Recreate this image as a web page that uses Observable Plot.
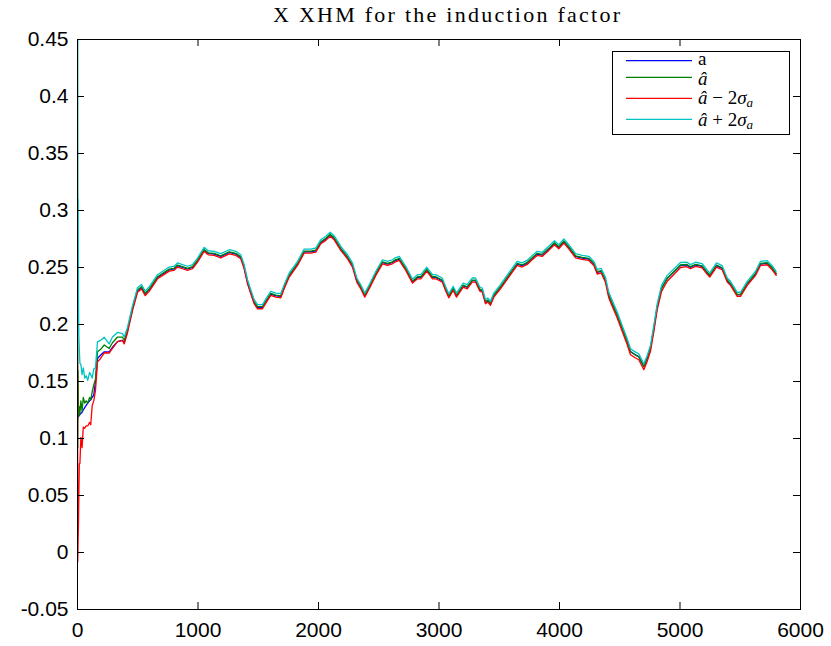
<!DOCTYPE html>
<html>
<head>
<meta charset="utf-8">
<script src="https://cdn.jsdelivr.net/npm/d3@7"></script>
<script src="https://cdn.jsdelivr.net/npm/@observablehq/plot@0.6"></script>
<style>
  body { margin: 0; background: #fff; }
  #chart { width: 831px; height: 646px; }
</style>
</head>
<body>
<div id="chart"></div>
<script>
// Time steps of the filter run
const steps = [0,2,5,8,11,15,20,28,38,48,60,72,85,100,110,122,135,149,166,190,222,263,290,332,373,388,
  415,456,498,531,562,595,664,720,761,802,830,871,913,954,996,1051,1085,1134,1189,1259,1314,1355,1383,1411,
  1438,1466,1494,1535,1563,1604,1646,1687,1715,1757,1826,1881,1936,1978,2019,2061,2097,2130,2185,2241,
  2282,2318,2351,2384,2421,2476,2531,2573,2614,2633,2670,2724,2780,2822,2849,2899,2946,2973,3027,3054,
  3081,3118,3145,3201,3234,3276,3303,3339,3359,3386,3405,3427,3455,3510,3579,3649,3690,3732,3773,3815,
  3856,3911,3958,3994,4036,4077,4133,4188,4243,4285,4313,4346,4382,4409,4437,4479,4520,4562,4589,4631,
  4658,4700,4728,4755,4783,4811,4847,4894,4949,5004,5054,5087,5129,5184,5226,5247,5303,5350,5392,5419,
  5475,5502,5558,5627,5668,5724,5765,5798];

// True induction factor a
const trueA = [0.118,0.118,0.119,0.119,0.120,0.120,0.121,0.122,0.123,0.125,0.127,0.129,0.131,0.133,0.134,0.136,0.138,0.150,0.170,0.173,0.176,0.176,0.180,0.185,0.186,0.184,
  0.1945,0.2136,0.2296,0.2325,0.2267,0.2305,0.2413,0.2452,0.2480,0.2487,0.2516,0.2501,0.2487,0.2501,0.2559,0.2653,0.2623,0.2618,0.2597,0.2632,0.2618,0.2588,0.2501,0.2369,
  0.2281,0.2194,0.2150,0.2150,0.2200,0.2267,0.2252,0.2246,0.2325,0.2428,0.2530,0.2638,0.2638,0.2647,0.2720,0.2750,0.2785,0.2755,0.2662,0.2588,
  0.2516,0.2384,0.2325,0.2252,0.2325,0.2443,0.2544,0.2530,0.2544,0.2559,0.2574,0.2487,0.2375,0.2413,0.2413,0.2478,0.2413,0.2413,0.2384,0.2311,
  0.2246,0.2311,0.2252,0.2340,0.2325,0.2384,0.2384,0.2305,0.2296,0.2194,0.2209,0.2180,0.2252,0.2325,0.2428,0.2530,0.2516,0.2539,0.2580,0.2618,
  0.2609,0.2662,0.2711,0.2676,0.2726,0.2676,0.2597,0.2583,0.2574,0.2530,0.2457,0.2466,0.2384,0.2252,0.2182,0.2081,0.1966,0.1850,0.1762,0.1733,
  0.1718,0.1630,0.1704,0.1792,0.1966,0.2155,0.2316,0.2404,0.2461,0.2518,0.2522,0.2501,0.2522,0.2509,0.2452,0.2428,0.2516,0.2492,0.2384,0.2355,
  0.2259,0.2259,0.2355,0.2443,0.2530,0.2536,0.2492,0.2443];

// Filter estimate of a
const estA = [0.470,0.092,0.160,0.125,0.120,0.128,0.122,0.133,0.124,0.136,0.131,0.133,0.131,0.136,0.134,0.141,0.147,0.152,0.176,0.178,0.182,0.179,0.184,0.189,0.189,0.186,
  0.1952,0.2142,0.2302,0.2331,0.2273,0.2311,0.2419,0.2458,0.2486,0.2493,0.2522,0.2507,0.2493,0.2507,0.2565,0.2659,0.2629,0.2624,0.2603,0.2638,0.2624,0.2594,0.2507,0.2375,
  0.2287,0.2200,0.2156,0.2156,0.2206,0.2273,0.2258,0.2252,0.2331,0.2434,0.2536,0.2644,0.2644,0.2653,0.2726,0.2756,0.2791,0.2761,0.2668,0.2594,
  0.2522,0.2390,0.2331,0.2258,0.2331,0.2449,0.2550,0.2536,0.2550,0.2565,0.2580,0.2493,0.2381,0.2419,0.2419,0.2484,0.2419,0.2419,0.2390,0.2317,
  0.2252,0.2317,0.2258,0.2346,0.2331,0.2390,0.2390,0.2311,0.2302,0.2200,0.2215,0.2186,0.2258,0.2331,0.2434,0.2536,0.2522,0.2545,0.2586,0.2624,
  0.2615,0.2668,0.2717,0.2682,0.2732,0.2682,0.2603,0.2589,0.2580,0.2536,0.2463,0.2472,0.2390,0.2258,0.2186,0.2083,0.1966,0.1849,0.1761,0.1732,
  0.1717,0.1629,0.1703,0.1791,0.1966,0.2156,0.2317,0.2405,0.2463,0.2522,0.2528,0.2507,0.2528,0.2515,0.2458,0.2434,0.2522,0.2498,0.2390,0.2361,
  0.2265,0.2265,0.2361,0.2449,0.2536,0.2542,0.2498,0.2449];

// Standard deviation of the estimate
const sigmaA = [0.130,0.050,0.075,0.050,0.035,0.025,0.022,0.016,0.016,0.013,0.011,0.011,0.010,0.011,0.011,0.006,0.007,0.005,0.0044,0.004,0.0034,0.002,0.0025,0.002,0.0015,0.0015,
  0.0012,0.0011,0.0010,0.0010,0.0010,0.0010,0.0009,0.0009,0.0009,0.0009,0.0009,0.0009,0.0009,0.0009,0.0009,0.0009,0.0009,0.0009,0.0009,0.0009,0.0009,0.0009,0.0009,0.0009,
  0.0009,0.0009,0.0009,0.0009,0.0009,0.0009,0.0009,0.0009,0.0009,0.0009,0.0009,0.0009,0.0009,0.0009,0.0009,0.0009,0.0009,0.0009,0.0009,0.0009,
  0.0009,0.0009,0.0009,0.0009,0.0009,0.0009,0.0009,0.0009,0.0009,0.0009,0.0009,0.0009,0.0009,0.0009,0.0009,0.0009,0.0009,0.0009,0.0009,0.0009,
  0.0009,0.0009,0.0009,0.0009,0.0009,0.0009,0.0009,0.0009,0.0009,0.0009,0.0009,0.0009,0.0009,0.0009,0.0009,0.0009,0.0009,0.0009,0.0009,0.0009,
  0.0009,0.0009,0.0009,0.0009,0.0009,0.0009,0.0009,0.0009,0.0009,0.0009,0.0010,0.0010,0.0011,0.0012,0.0013,0.0013,0.0013,0.0013,0.0013,0.0013,
  0.0013,0.0013,0.0013,0.0013,0.0013,0.0013,0.0013,0.0013,0.0012,0.0011,0.0010,0.0009,0.0009,0.0009,0.0009,0.0009,0.0009,0.0009,0.0009,0.0009,
  0.0009,0.0009,0.0009,0.0009,0.0009,0.0009,0.0009,0.0009];

const xTicks = [0, 1000, 2000, 3000, 4000, 5000, 6000];
const yTicks = [-0.05, 0, 0.05, 0.1, 0.15, 0.2, 0.25, 0.3, 0.35, 0.4, 0.45];
const yTickLabels = ["-0.05", "0", "0.05", "0.1", "0.15", "0.2", "0.25", "0.3", "0.35", "0.4", "0.45"];

const titleText = "X XHM for the induction factor";
const colors = { a: "#0000ff", est: "#008000", lower: "#ff0000", upper: "#00c4c4" };

const W = 831, H = 646;
const margin = { top: 39, right: 31, bottom: 37, left: 77 };
const frameW = W - margin.left - margin.right;
const frameH = H - margin.top - margin.bottom;
const tickLen = 7;

// Confidence bounds: estimate minus / plus two standard deviations
const lowerA = estA.map((v, i) => v - 2 * sigmaA[i]);
const upperA = estA.map((v, i) => v + 2 * sigmaA[i]);

const lineOpts = { strokeWidth: 1.3, clip: true, curve: "linear" };

const svg = Plot.plot({
  width: W,
  height: H,
  marginTop: margin.top,
  marginRight: margin.right,
  marginBottom: margin.bottom,
  marginLeft: margin.left,
  x: { domain: [0, 6000] },
  y: { domain: [-0.05, 0.45] },
  style: { fontFamily: "'Liberation Sans', Arial, sans-serif", fontSize: "21px", color: "#000", background: "#fff" },
  marks: [
    Plot.line(steps, { x: steps, y: trueA, stroke: colors.a, ...lineOpts }),
    Plot.line(steps, { x: steps, y: estA, stroke: colors.est, ...lineOpts }),
    Plot.line(steps, { x: steps, y: lowerA, stroke: colors.lower, ...lineOpts }),
    Plot.line(steps, { x: steps, y: upperA, stroke: colors.upper, ...lineOpts }),
    Plot.frame({ stroke: "#000", strokeWidth: 1 }),
    // inward ticks on all four sides
    Plot.tickX(xTicks, { x: d => d, insetTop: frameH - tickLen, stroke: "#000" }),
    Plot.tickX(xTicks, { x: d => d, insetBottom: frameH - tickLen, stroke: "#000" }),
    Plot.tickY(yTicks, { y: d => d, insetRight: frameW - tickLen, stroke: "#000" }),
    Plot.tickY(yTicks, { y: d => d, insetLeft: frameW - tickLen, stroke: "#000" }),
    Plot.axisX(xTicks, { tickSize: 0, tickPadding: 13, tickFormat: d => String(d), label: null, fontSize: 21 }),
    Plot.axisY(yTicks, { tickSize: 0, tickPadding: 9, tickFormat: d => yTickLabels[yTicks.indexOf(d)], label: null, fontSize: 21 })
  ]
});

const root = d3.select(svg);
const serif = "'Liberation Serif', 'Times New Roman', serif";

// Title
root.append("text")
  .attr("x", 273).attr("y", 22)
  .attr("text-anchor", "start")
  .style("font-family", serif).style("font-size", "22px")
  .attr("textLength", 347).attr("lengthAdjust", "spacing")
  .attr("fill", "#000")
  .text(titleText);

// Legend
const legend = root.append("g").attr("text-anchor", "start");
legend.append("rect")
  .attr("x", 612.5).attr("y", 51.5).attr("width", 177).attr("height", 83)
  .attr("fill", "#fff").attr("stroke", "#000").attr("stroke-width", 1);

const rows = [
  { key: "a", y: 60.7 },
  { key: "est", y: 77.3 },
  { key: "lower", y: 98.3 },
  { key: "upper", y: 119.3 }
];
rows.forEach(r => {
  legend.append("line")
    .attr("x1", 626).attr("x2", 692).attr("y1", r.y).attr("y2", r.y)
    .attr("stroke", colors[r.key]).attr("stroke-width", 1.2);
});

function label(y) {
  return legend.append("text").attr("x", 698).attr("y", y)
    .attr("text-anchor", "start")
    .style("font-family", serif).style("font-size", "19px").attr("fill", "#000");
}
label(64.5).text("a");
label(84.5).append("tspan").attr("font-style", "italic").text("â");
[["−"], ["+"]].forEach(([op], j) => {
  const t = label(j === 0 ? 104 : 125.5);
  t.append("tspan").attr("font-style", "italic").text("â");
  t.append("tspan").text(" " + op + " 2");
  t.append("tspan").attr("font-style", "italic").text("σ");
  t.append("tspan").attr("font-style", "italic").style("font-size", "13px").attr("dy", 3).text("a");
});

document.getElementById("chart").appendChild(svg);
</script>
</body>
</html>
